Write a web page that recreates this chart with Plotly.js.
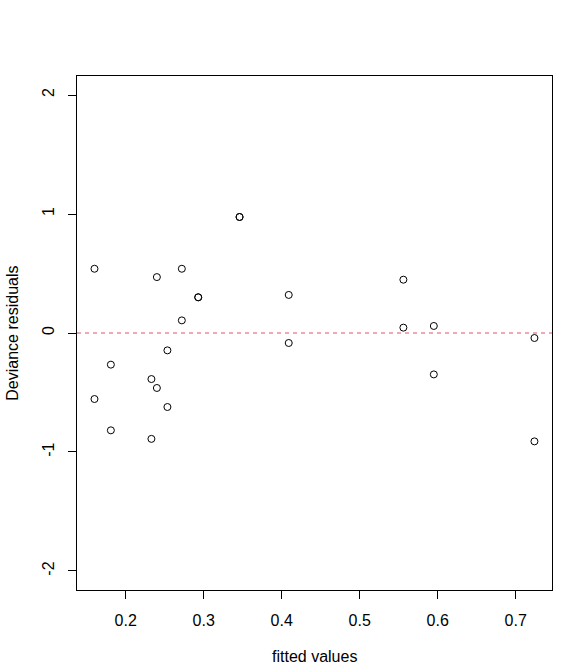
<!DOCTYPE html>
<html>
<head>
<meta charset="utf-8">
<script src="https://cdn.plot.ly/plotly-3.0.1.min.js"></script>
<style>
  body { margin: 0; background: #fff; }
  #plot { width: 587px; height: 672px; }
</style>
</head>
<body>
<div id="plot"></div>
<script>
// fitted values (x) and deviance residuals (y)
var fitted = [0.160, 0.160, 0.181, 0.181, 0.233, 0.233, 0.240, 0.240,
              0.2535, 0.2535, 0.272, 0.272, 0.293, 0.293, 0.346, 0.346,
              0.409, 0.409, 0.556, 0.556, 0.595, 0.595, 0.724, 0.724];
var residuals = [0.54, -0.555, -0.266, -0.818, -0.387, -0.89, 0.47, -0.462,
                 -0.146, -0.622, 0.54, 0.106, 0.30, 0.30, 0.975, 0.975,
                 0.32, -0.084, 0.448, 0.045, 0.059, -0.348, -0.042, -0.911];
var xTicks = [0.2, 0.3, 0.4, 0.5, 0.6, 0.7];
var yTicks = [-2, -1, 0, 1, 2];
var refLevel = 0;

var font = { family: 'Liberation Sans, Arial, Helvetica, sans-serif', size: 16, color: '#000' };

var trace = {
    x: fitted,
    y: residuals,
    mode: 'markers',
    type: 'scatter',
    marker: { symbol: 'circle-open', size: 7, color: '#000', line: { width: 1, color: '#000' } },
    hoverinfo: 'x+y'
};

var layout = {
    width: 587,
    height: 672,
    margin: { l: 77, r: 35, t: 76, b: 82 },
    paper_bgcolor: '#fff',
    plot_bgcolor: '#fff',
    showlegend: false,
    font: font,
    xaxis: {
        range: [0.1376, 0.7465],
        tickvals: xTicks,
        ticktext: xTicks.map(function (v) { return v.toFixed(1); }),
        ticks: 'outside', ticklen: 8, tickcolor: '#000', tickwidth: 1,
        ticklabelstandoff: 8,
        showline: true, mirror: true, linecolor: '#000', linewidth: 1,
        showgrid: false, zeroline: false,
        automargin: false
    },
    yaxis: {
        range: [-2.16, 2.16],
        tickvals: yTicks,
        ticktext: yTicks.map(String),
        tickangle: -90,
        ticks: 'outside', ticklen: 8, tickcolor: '#000', tickwidth: 1,
        ticklabelstandoff: 8,
        showline: true, mirror: true, linecolor: '#000', linewidth: 1,
        showgrid: false, zeroline: false,
        automargin: false
    },
    shapes: [{
        type: 'line', xref: 'paper', yref: 'y',
        x0: 0, x1: 1, y0: refLevel, y1: refLevel,
        line: { color: '#DF536B', width: 1, dash: '4px,4px' }
    }],
    annotations: [
        { text: 'fitted values', xref: 'paper', yref: 'paper', x: 0.5, y: -0.130,
          xanchor: 'center', yanchor: 'middle', showarrow: false, font: font },
        { text: 'Deviance residuals', xref: 'paper', yref: 'paper', x: -0.1375, y: 0.5,
          xanchor: 'center', yanchor: 'middle', textangle: -90, showarrow: false, font: font }
    ]
};

Plotly.newPlot('plot', [trace], layout, { displayModeBar: false, staticPlot: true });
</script>
</body>
</html>
